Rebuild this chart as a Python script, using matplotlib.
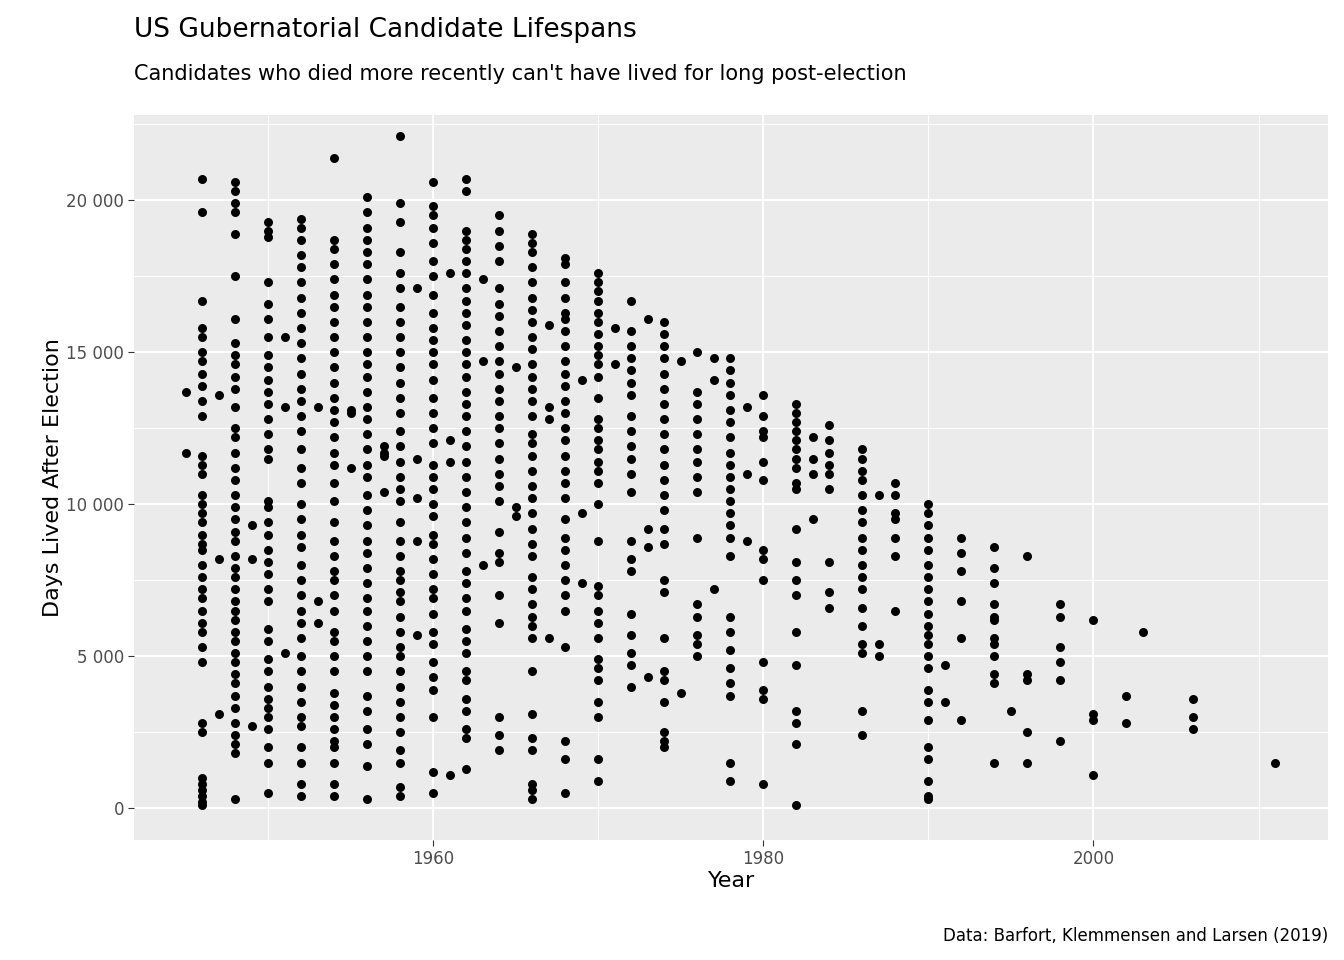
import numpy as np
import matplotlib.pyplot as plt
from matplotlib.ticker import FuncFormatter, MultipleLocator

# Election years and the days lived after election (thousands)
years = [1945, 1946, 1947, 1948, 1949, 1950, 1951, 1952, 1953, 1954, 1955, 1956, 1957, 1958,
         1959, 1960, 1961, 1962, 1963, 1964, 1965, 1966, 1967, 1968, 1969, 1970, 1971, 1972,
         1973, 1974, 1975, 1976, 1977, 1978, 1979, 1980, 1982, 1983, 1984, 1986, 1987, 1988,
         1990, 1991, 1992, 1994, 1995, 1996, 1998, 2000, 2002, 2003, 2006, 2011]
days_k = [
    [13.7, 11.7],
    [20.7, 19.6, 16.7, 15.8, 15.5, 15.0, 14.7, 14.3, 13.9, 13.4, 12.9, 11.6, 11.3, 11.0, 10.3, 10.0, 9.7, 9.4, 9.0, 8.7, 8.5, 8.0, 7.6, 7.2, 6.9, 6.5, 6.1, 5.8, 5.3, 4.8, 2.8, 2.5, 1.0, 0.8, 0.6, 0.4, 0.2, 0.1],
    [13.6, 8.2, 3.1],
    [20.6, 20.3, 19.9, 19.6, 18.9, 17.5, 16.1, 15.3, 14.9, 14.6, 14.2, 13.8, 13.2, 12.5, 12.2, 11.7, 11.2, 10.8, 10.3, 9.9, 9.5, 9.1, 8.8, 8.3, 7.9, 7.6, 7.2, 6.8, 6.5, 6.2, 5.8, 5.5, 5.1, 4.8, 4.4, 4.1, 3.7, 3.3, 2.8, 2.4, 2.1, 1.8, 0.3],
    [9.3, 8.2, 2.7],
    [19.3, 19.0, 18.8, 17.3, 16.6, 16.1, 15.5, 14.9, 14.5, 14.1, 13.7, 13.3, 12.8, 12.3, 11.8, 11.5, 10.1, 9.9, 9.4, 9.0, 8.5, 8.1, 7.7, 7.2, 6.8, 5.9, 5.5, 4.9, 4.5, 4.0, 3.6, 3.3, 3.0, 2.6, 2.0, 1.5, 0.5],
    [15.5, 13.2, 5.1],
    [19.4, 19.1, 18.7, 18.2, 17.8, 17.3, 16.8, 16.3, 15.8, 15.3, 14.8, 14.3, 13.8, 13.4, 12.9, 12.4, 11.8, 11.2, 10.7, 10.0, 9.5, 9.0, 8.6, 8.0, 7.5, 7.0, 6.5, 6.1, 5.6, 5.0, 4.5, 4.0, 3.5, 3.0, 2.7, 2.0, 1.5, 0.8, 0.4],
    [13.2, 6.8, 6.1],
    [21.4, 18.7, 18.4, 17.9, 17.4, 16.9, 16.5, 16.0, 15.5, 15.0, 14.5, 14.0, 13.5, 13.1, 12.7, 12.2, 11.7, 11.3, 10.7, 10.1, 9.4, 8.8, 8.3, 7.8, 7.5, 7.0, 6.5, 5.8, 5.5, 5.0, 4.5, 3.8, 3.4, 3.0, 2.6, 2.2, 2.0, 1.5, 0.8, 0.4],
    [13.1, 13.0, 11.2],
    [20.1, 19.6, 19.1, 18.7, 18.3, 17.9, 17.4, 16.9, 16.5, 16.0, 15.5, 15.0, 14.6, 14.2, 13.7, 13.2, 12.8, 12.3, 11.8, 11.3, 10.9, 10.3, 9.8, 9.3, 8.8, 8.4, 7.9, 7.4, 6.9, 6.5, 6.0, 5.5, 5.0, 4.5, 3.7, 3.2, 2.6, 2.1, 1.4, 0.3],
    [11.9, 11.7, 11.6, 10.4],
    [22.1, 19.9, 19.3, 18.3, 17.6, 17.1, 16.5, 16.0, 15.5, 15.0, 14.5, 14.0, 13.5, 13.0, 12.4, 11.9, 11.4, 10.9, 10.5, 10.1, 9.4, 8.8, 8.3, 7.8, 7.5, 7.1, 6.8, 6.3, 5.8, 5.3, 5.0, 4.5, 4.0, 3.5, 3.0, 2.5, 1.9, 1.5, 0.7, 0.4],
    [17.1, 11.5, 10.2, 8.8, 5.7],
    [20.6, 19.8, 19.5, 19.1, 18.6, 18.0, 17.5, 16.9, 16.3, 15.8, 15.4, 15.0, 14.6, 14.1, 13.5, 13.0, 12.5, 12.0, 11.3, 10.9, 10.5, 10.0, 9.6, 9.0, 8.7, 8.2, 7.7, 7.2, 6.9, 6.4, 5.8, 5.4, 4.8, 4.3, 3.9, 3.0, 1.2, 0.5],
    [17.6, 12.1, 11.4, 1.1],
    [20.7, 20.3, 19.0, 18.7, 18.4, 18.0, 17.6, 17.1, 16.7, 16.3, 15.9, 15.4, 15.0, 14.6, 14.2, 13.7, 13.3, 12.9, 12.4, 11.9, 11.4, 10.9, 10.4, 9.9, 9.4, 8.9, 8.4, 7.8, 7.4, 6.9, 6.5, 5.9, 5.5, 5.1, 4.5, 4.2, 3.6, 3.2, 2.6, 2.3, 1.3],
    [17.4, 14.7, 8.0],
    [19.5, 19.0, 18.5, 18.0, 17.1, 16.6, 16.2, 15.7, 15.2, 14.7, 14.3, 13.8, 13.4, 12.9, 12.5, 12.0, 11.5, 11.0, 10.6, 10.1, 9.1, 8.4, 8.1, 7.0, 6.1, 3.0, 2.4, 1.9],
    [14.5, 9.9, 9.6],
    [18.9, 18.6, 18.3, 17.8, 17.3, 16.8, 16.4, 16.0, 15.5, 15.1, 14.6, 14.2, 13.8, 13.4, 12.9, 12.3, 12.0, 11.6, 11.1, 10.6, 10.2, 9.7, 9.2, 8.7, 8.3, 7.6, 7.2, 6.7, 6.3, 6.0, 5.6, 4.5, 3.1, 2.3, 1.9, 0.8, 0.6, 0.3],
    [15.9, 13.2, 12.8, 5.6],
    [18.1, 17.9, 17.3, 16.8, 16.3, 16.1, 15.7, 15.2, 14.7, 14.3, 13.9, 13.4, 13.0, 12.5, 12.1, 11.6, 11.1, 10.7, 10.2, 9.5, 8.9, 8.5, 8.0, 7.5, 7.0, 6.5, 5.3, 2.2, 1.6, 0.5],
    [14.1, 9.7, 7.4],
    [17.6, 17.3, 17.0, 16.7, 16.3, 16.0, 15.6, 15.2, 14.9, 14.6, 14.2, 13.5, 12.8, 12.5, 12.1, 11.8, 11.4, 11.1, 10.7, 10.0, 8.8, 7.3, 7.0, 6.5, 6.1, 5.6, 4.9, 4.6, 4.2, 3.5, 3.0, 1.6, 0.9],
    [15.8, 14.6],
    [16.7, 15.7, 15.2, 14.8, 14.4, 14.0, 13.6, 12.9, 12.4, 11.9, 11.5, 11.0, 10.4, 8.8, 8.2, 7.8, 6.4, 5.7, 5.1, 4.7, 4.0],
    [16.1, 9.2, 8.6, 4.3],
    [16.0, 15.6, 15.2, 14.8, 14.3, 13.8, 13.3, 12.8, 12.3, 11.8, 11.3, 10.8, 10.3, 9.8, 9.2, 8.7, 7.5, 7.1, 5.6, 4.5, 4.2, 3.5, 2.5, 2.2, 2.0],
    [14.7, 3.8],
    [15.0, 13.7, 13.3, 12.8, 12.3, 11.8, 11.4, 10.9, 10.4, 8.9, 6.7, 6.3, 5.7, 5.4, 5.0],
    [14.8, 14.1, 7.2],
    [14.8, 14.4, 14.0, 13.6, 13.1, 12.7, 12.2, 11.7, 11.3, 10.9, 10.5, 10.1, 9.7, 9.3, 8.9, 8.3, 6.3, 5.8, 5.2, 4.6, 4.1, 3.7, 1.5, 0.9],
    [13.2, 11.0, 8.8],
    [13.6, 12.9, 12.4, 12.2, 11.4, 10.8, 8.5, 8.2, 7.5, 4.8, 3.9, 3.6, 0.8],
    [13.3, 13.0, 12.7, 12.4, 12.1, 11.8, 11.5, 11.2, 10.7, 10.5, 9.2, 8.1, 7.5, 7.0, 5.8, 4.7, 3.2, 2.8, 2.1, 0.1],
    [12.2, 11.5, 11.0, 9.5],
    [12.6, 12.1, 11.7, 11.3, 11.0, 10.5, 8.1, 7.1, 6.6],
    [11.8, 11.5, 11.1, 10.8, 10.3, 9.8, 9.4, 8.9, 8.5, 8.0, 7.6, 7.2, 6.6, 6.0, 5.4, 5.1, 3.2, 2.4],
    [10.3, 5.4, 5.0],
    [10.7, 10.3, 9.7, 9.5, 8.9, 8.3, 6.5],
    [10.0, 9.7, 9.3, 8.9, 8.5, 8.0, 7.6, 7.2, 6.8, 6.4, 6.0, 5.7, 5.4, 5.0, 4.6, 3.9, 3.5, 2.9, 2.0, 1.6, 0.9, 0.4, 0.3],
    [4.7, 3.5],
    [8.9, 8.4, 7.8, 6.8, 5.6, 2.9],
    [8.6, 7.9, 7.4, 6.7, 6.3, 6.2, 5.6, 5.4, 5.0, 4.4, 4.1, 1.5],
    [3.2],
    [8.3, 4.4, 4.2, 2.5, 1.5],
    [6.7, 6.3, 5.3, 4.8, 4.2, 2.2],
    [6.2, 3.1, 2.9, 1.1],
    [3.7, 2.8],
    [5.8],
    [3.6, 3.0, 2.6],
    [1.5],
]

xs = np.concatenate([[yr] * len(v) for yr, v in zip(years, days_k)])
ys = np.concatenate([np.array(v) * 1000 for v in days_k])

fig = plt.figure(figsize=(13.44, 9.6), dpi=100)
ax = fig.add_axes([0.1, 0.125, 0.888, 0.755])
ax.set_facecolor('#EBEBEB')
ax.scatter(xs, ys, s=42, color='black', zorder=3, linewidths=0)

ax.set_xlim(1941.9, 2014.2)
ax.set_ylim(-1050, 22800)
ax.xaxis.set_major_locator(MultipleLocator(20))
ax.xaxis.set_minor_locator(MultipleLocator(10))
ax.yaxis.set_major_locator(MultipleLocator(5000))
ax.yaxis.set_minor_locator(MultipleLocator(2500))
ax.yaxis.set_major_formatter(FuncFormatter(lambda v, p: f"{int(v):,}".replace(',', ' ')))
ax.grid(which='major', color='white', linewidth=1.4)
ax.grid(which='minor', color='white', linewidth=0.7)
ax.set_axisbelow(True)
for s in ax.spines.values():
    s.set_visible(False)
ax.tick_params(which='major', length=4, color='#333333', labelsize=12, labelcolor='#4D4D4D')
ax.tick_params(which='minor', length=0)

ax.set_xlabel('Year', fontsize=16, labelpad=2)
ax.set_ylabel('Days Lived After Election', fontsize=16, labelpad=2)
fig.text(0.1, 0.955, 'US Gubernatorial Candidate Lifespans', fontsize=19, va='bottom')
fig.text(0.1, 0.912, "Candidates who died more recently can't have lived for long post-election",
         fontsize=15, va='bottom')
fig.text(0.988, 0.02, 'Data: Barfort, Klemmensen and Larsen (2019)', fontsize=12, ha='right')

fig.savefig('out.png', dpi=100)
